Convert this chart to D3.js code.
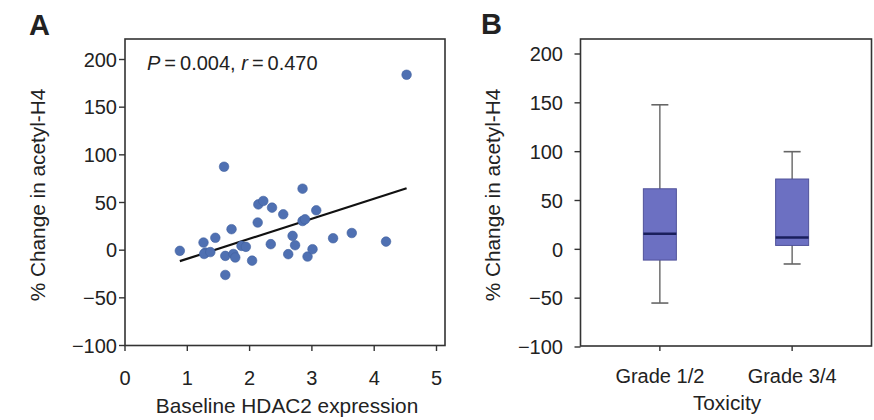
<!DOCTYPE html>
<html>
<head>
<meta charset="utf-8">
<script src="https://cdn.jsdelivr.net/npm/d3@7"></script>
<style>
  body { margin: 0; background: #fff; }
  text { font-family: "Liberation Sans", Arial, sans-serif; fill: #222; }
</style>
</head>
<body>
<div id="chart"></div>
<script>
// Panel A: baseline HDAC2 vs % change in acetyl-H4
var hdac2 = [0.88, 1.26, 1.29, 1.27, 1.37, 1.45, 1.71, 1.61, 1.74, 1.77, 1.61, 1.87, 1.94,
             2.04, 2.13, 2.14, 2.22, 2.36, 2.54, 2.34, 2.62, 2.69, 2.73, 2.85, 2.89, 3.07,
             2.93, 3.01, 3.34, 3.64, 4.19, 4.52, 1.59, 2.85];
var acetylChange = [-0.7, 8, -2.5, -4, -2, 13, 22, -6, -4, -7.7, -26, 4.5, 3.5,
                    -11, 29, 48, 51.6, 44.6, 37.6, 6.3, -4.2, 15, 5.2, 30.6, 32.4, 41.8,
                    -6.7, 1, 12.5, 18, 9, 184, 87.5, 64.5];
var fitSlope = 21.0,
    fitIntercept = -30.0;
var xTicksA = [0, 1, 2, 3, 4, 5];
var yTicks = [-100, -50, 0, 50, 100, 150, 200];

// Panel B: box plots by toxicity grade
var grades = ['Grade 1/2', 'Grade 3/4'];
var whiskerLow  = [-55, -15];
var boxLow      = [-11, 4];
var medians     = [16, 12];
var boxHigh     = [62, 72];
var whiskerHigh = [148, 100];

var width = 874, height = 420;

var svg = d3.select('#chart').append('svg')
    .attr('width', width)
    .attr('height', height);

// ---------- panel A ----------
var xA = d3.scaleLinear().domain([0, 5]).range([125, 436.5]);
var yA = d3.scaleLinear().domain([-100, 200]).range([345.5, 59.5]);

var gA = svg.append('g');

gA.append('rect')
    .attr('x', 125).attr('y', 39)
    .attr('width', 445 - 125).attr('height', 345.5 - 39)
    .attr('fill', 'none')
    .attr('stroke', '#333')
    .attr('stroke-width', 1.6);

gA.selectAll('.ytick').data(yTicks).enter().append('line')
    .attr('x1', 119).attr('x2', 125)
    .attr('y1', function(d) { return yA(d); })
    .attr('y2', function(d) { return yA(d); })
    .attr('stroke', '#333').attr('stroke-width', 1.4);

gA.selectAll('.ylab').data(yTicks).enter().append('text')
    .attr('x', 117)
    .attr('y', function(d) { return yA(d); })
    .attr('dy', '0.36em')
    .attr('text-anchor', 'end')
    .style('font-size', '20px')
    .text(function(d) { return d < 0 ? '\u2212' + Math.abs(d) : d; });

gA.selectAll('.xtick').data(xTicksA).enter().append('line')
    .attr('x1', function(d) { return xA(d); })
    .attr('x2', function(d) { return xA(d); })
    .attr('y1', 345.5).attr('y2', 351)
    .attr('stroke', '#333').attr('stroke-width', 1.4);

gA.selectAll('.xlab').data(xTicksA).enter().append('text')
    .attr('x', function(d) { return xA(d); })
    .attr('y', 385)
    .attr('text-anchor', 'middle')
    .style('font-size', '20px')
    .text(function(d) { return d; });

gA.append('text')
    .attr('x', 287).attr('y', 413)
    .attr('text-anchor', 'middle')
    .style('font-size', '20.8px')
    .text('Baseline HDAC2 expression');

gA.append('text')
    .attr('transform', 'translate(45,195) rotate(-90)')
    .attr('text-anchor', 'middle')
    .style('font-size', '20.8px')
    .text('% Change in acetyl-H4');

gA.append('text')
    .attr('x', 29).attr('y', 35)
    .style('font-size', '29px')
    .style('font-weight', 'bold')
    .text('A');

var note = gA.append('text')
    .attr('x', 147).attr('y', 70)
    .style('font-size', '20px');
note.append('tspan').style('font-style', 'italic').text('P');
note.append('tspan').text('\u2009=\u20090.004, ');
note.append('tspan').style('font-style', 'italic').text('r');
note.append('tspan').text('\u2009=\u20090.470');

var xMin = d3.min(hdac2), xMax = d3.max(hdac2);
gA.append('line')
    .attr('x1', xA(xMin)).attr('y1', yA(fitIntercept + fitSlope * xMin))
    .attr('x2', xA(xMax)).attr('y2', yA(fitIntercept + fitSlope * xMax))
    .attr('stroke', '#111')
    .attr('stroke-width', 2.2);

gA.selectAll('circle').data(hdac2).enter().append('circle')
    .attr('cx', function(d) { return xA(d); })
    .attr('cy', function(d, i) { return yA(acetylChange[i]); })
    .attr('r', 4.8)
    .attr('fill', '#4f70b2')
    .attr('stroke', '#42619f')
    .attr('stroke-width', 0.6);

// ---------- panel B ----------
var xB = d3.scalePoint().domain(grades).range([580.5, 871.5]).padding(0.6);
var yB = d3.scaleLinear().domain([-100, 200]).range([347, 54]);
var boxWidth = 33, capWidth = 17;

var gB = svg.append('g');

gB.append('rect')
    .attr('x', 580.5).attr('y', 39)
    .attr('width', 871.5 - 580.5).attr('height', 346 - 39)
    .attr('fill', 'none')
    .attr('stroke', '#333')
    .attr('stroke-width', 1.6);

gB.selectAll('.ytick').data(yTicks).enter().append('line')
    .attr('x1', 574.5).attr('x2', 580.5)
    .attr('y1', function(d) { return yB(d); })
    .attr('y2', function(d) { return yB(d); })
    .attr('stroke', '#333').attr('stroke-width', 1.4);

gB.selectAll('.ylab').data(yTicks).enter().append('text')
    .attr('x', 563)
    .attr('y', function(d) { return yB(d); })
    .attr('dy', '0.36em')
    .attr('text-anchor', 'end')
    .style('font-size', '20px')
    .text(function(d) { return d < 0 ? '\u2212' + Math.abs(d) : d; });

gB.selectAll('.xtick').data(grades).enter().append('line')
    .attr('x1', function(d) { return xB(d); })
    .attr('x2', function(d) { return xB(d); })
    .attr('y1', 346).attr('y2', 351)
    .attr('stroke', '#333').attr('stroke-width', 1.4);

gB.selectAll('.xlab').data(grades).enter().append('text')
    .attr('x', function(d) { return xB(d); })
    .attr('y', 383)
    .attr('text-anchor', 'middle')
    .style('font-size', '20px')
    .text(function(d) { return d; });

gB.append('text')
    .attr('x', 727).attr('y', 410)
    .attr('text-anchor', 'middle')
    .style('font-size', '20.8px')
    .text('Toxicity');

gB.append('text')
    .attr('transform', 'translate(500,195) rotate(-90)')
    .attr('text-anchor', 'middle')
    .style('font-size', '20.8px')
    .text('% Change in acetyl-H4');

gB.append('text')
    .attr('x', 481).attr('y', 34)
    .style('font-size', '29px')
    .style('font-weight', 'bold')
    .text('B');

var boxes = gB.selectAll('.box').data(grades).enter().append('g');

// whiskers
boxes.append('line')
    .attr('x1', function(d) { return xB(d); })
    .attr('x2', function(d) { return xB(d); })
    .attr('y1', function(d, i) { return yB(whiskerLow[i]); })
    .attr('y2', function(d, i) { return yB(whiskerHigh[i]); })
    .attr('stroke', '#666').attr('stroke-width', 1.4);

boxes.append('line')
    .attr('x1', function(d) { return xB(d) - capWidth / 2; })
    .attr('x2', function(d) { return xB(d) + capWidth / 2; })
    .attr('y1', function(d, i) { return yB(whiskerHigh[i]); })
    .attr('y2', function(d, i) { return yB(whiskerHigh[i]); })
    .attr('stroke', '#666').attr('stroke-width', 1.6);

boxes.append('line')
    .attr('x1', function(d) { return xB(d) - capWidth / 2; })
    .attr('x2', function(d) { return xB(d) + capWidth / 2; })
    .attr('y1', function(d, i) { return yB(whiskerLow[i]); })
    .attr('y2', function(d, i) { return yB(whiskerLow[i]); })
    .attr('stroke', '#666').attr('stroke-width', 1.6);

boxes.append('rect')
    .attr('x', function(d) { return xB(d) - boxWidth / 2; })
    .attr('width', boxWidth)
    .attr('y', function(d, i) { return yB(boxHigh[i]); })
    .attr('height', function(d, i) { return yB(boxLow[i]) - yB(boxHigh[i]); })
    .attr('fill', '#6c70c2')
    .attr('stroke', '#50529a')
    .attr('stroke-width', 1);

boxes.append('line')
    .attr('x1', function(d) { return xB(d) - boxWidth / 2; })
    .attr('x2', function(d) { return xB(d) + boxWidth / 2; })
    .attr('y1', function(d, i) { return yB(medians[i]); })
    .attr('y2', function(d, i) { return yB(medians[i]); })
    .attr('stroke', '#1a1f5c').attr('stroke-width', 2.5);
</script>
</body>
</html>
